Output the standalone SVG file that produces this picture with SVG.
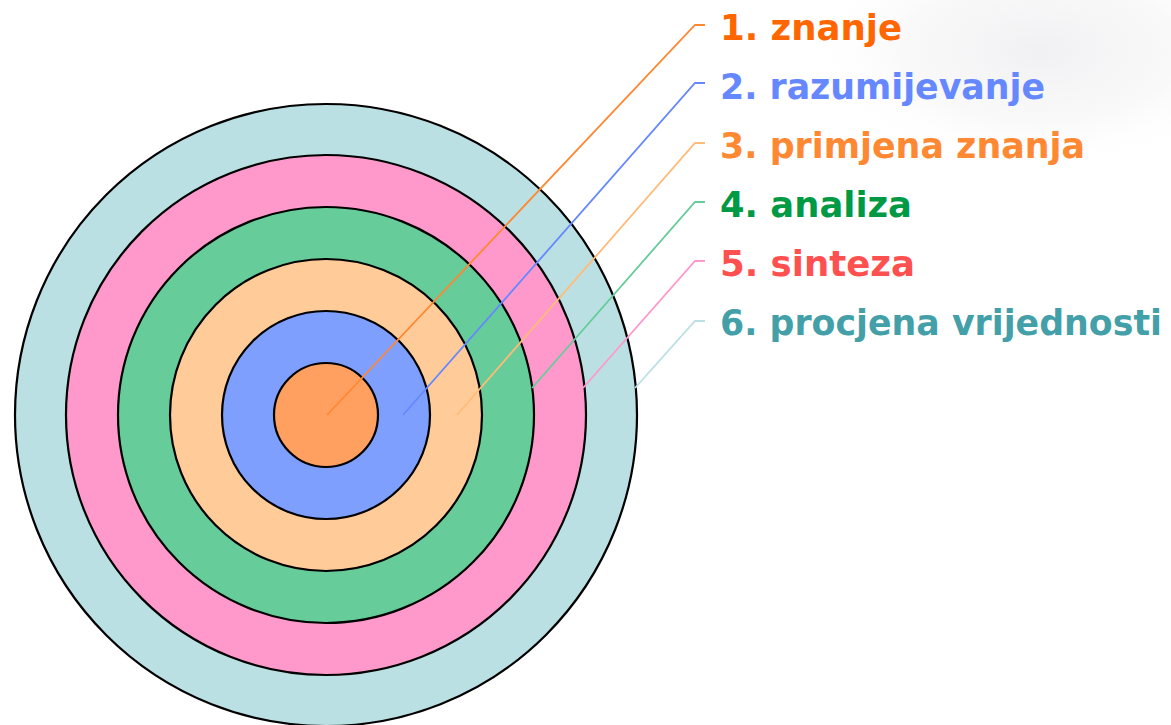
<svg xmlns="http://www.w3.org/2000/svg" width="1171" height="725" viewBox="0 0 1171 725">
  <defs>
    <radialGradient id="haze" cx="0.5" cy="0.5" r="0.5">
      <stop offset="0" stop-color="#ededef" stop-opacity="0.8"/>
      <stop offset="0.6" stop-color="#f3f3f5" stop-opacity="0.5"/>
      <stop offset="1" stop-color="#ffffff" stop-opacity="0"/>
    </radialGradient>
    <style>
      .ring { stroke: #000; stroke-width: 2.2; }
      .lbl { font-family: "DejaVu Sans", "Liberation Sans", sans-serif; font-weight: bold; font-size: 36px; }
      .con { fill: none; stroke-width: 1.8; }
    </style>
  </defs>
  <rect width="1171" height="725" fill="#ffffff"/>
  <ellipse cx="1040" cy="50" rx="230" ry="120" fill="url(#haze)"/>

  <g id="ring6"><circle class="ring" cx="326" cy="415" r="311" fill="#BBE0E3"/></g>
  <g id="ring5"><circle class="ring" cx="326" cy="415" r="260" fill="#FF99CC"/></g>
  <g id="ring4"><circle class="ring" cx="326" cy="415" r="208" fill="#66CC99"/></g>
  <g id="ring3"><circle class="ring" cx="326" cy="415" r="156" fill="#FFCC99"/></g>
  <g id="ring2"><circle class="ring" cx="326" cy="415" r="104" fill="#7F9FFF"/></g>
  <g id="ring1"><circle class="ring" cx="326" cy="415" r="52" fill="#FFA060"/></g>

  <g id="connectors">
    <polyline class="con" stroke="#FF8833" points="327,415 695,25 705,25"/>
    <polyline class="con" stroke="#6688FF" points="403,415 695,83 705,83"/>
    <polyline class="con" stroke="#FFBB77" points="457,415 695,143 705,143"/>
    <polyline class="con" stroke="#66CC99" points="532,388 695,202 705,202"/>
    <polyline class="con" stroke="#FF99CC" points="583,388 695,261 705,261"/>
    <polyline class="con" stroke="#BBE0E3" points="635,388 695,321 705,321"/>
  </g>

  <g id="label1"><text class="lbl" x="720" y="40" fill="#FF6600" textLength="182" lengthAdjust="spacingAndGlyphs">1. znanje</text></g>
  <g id="label2"><text class="lbl" x="720" y="99" fill="#6688FF" textLength="325" lengthAdjust="spacingAndGlyphs">2. razumijevanje</text></g>
  <g id="label3"><text class="lbl" x="720" y="158" fill="#FF8833" textLength="365" lengthAdjust="spacingAndGlyphs">3. primjena znanja</text></g>
  <g id="label4"><text class="lbl" x="720" y="217" fill="#009944" textLength="192" lengthAdjust="spacingAndGlyphs">4. analiza</text></g>
  <g id="label5"><text class="lbl" x="720" y="276" fill="#FF5050" textLength="195" lengthAdjust="spacingAndGlyphs">5. sinteza</text></g>
  <g id="label6"><text class="lbl" x="720" y="335" fill="#44A0A8" textLength="442" lengthAdjust="spacingAndGlyphs">6. procjena vrijednosti</text></g>
</svg>
